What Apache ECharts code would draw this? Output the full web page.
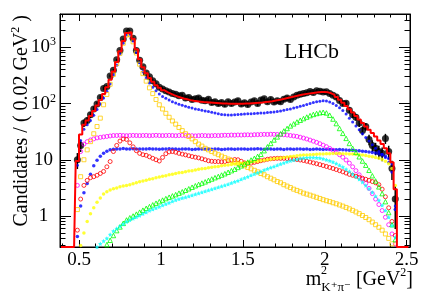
<!DOCTYPE html>
<html><head><meta charset="utf-8">
<script src="https://cdn.jsdelivr.net/npm/echarts@6/dist/echarts.min.js"></script>
<style>html,body{margin:0;padding:0;background:#fff}#c{width:432px;height:293px}</style>
</head><body><div id="c"></div>
<script>
// bin centres (0.02 GeV^2 bins)
const binCenters = Array.from({length: 98}, (_, i) => +(0.49 + 0.02 * i).toFixed(2));
const emptyBinsLeft = [0.39, 0.41, 0.43, 0.45, 0.47];
const emptyBinsRight = [2.45, 2.47, 2.49, 2.51];

const dataCounts = [
  10, 18, 45, 50, 63, 80, 98, 128, 185, 200,
  310, 390, 600, 880, 1400, 1950, 1950, 1450, 880, 590,
  450, 350, 300, 255, 225, 195, 182, 168, 160, 150,
  146, 138, 140, 125, 128, 118, 122, 126, 114, 112,
  119, 104, 108, 100, 104, 97, 108, 100, 106, 112,
  98, 103, 96, 106, 112, 100, 116, 121, 108, 118,
  106, 112, 108, 119, 126, 118, 131, 141, 146, 150,
  155, 163, 157, 168, 165, 160, 162, 150, 141, 130,
  113, 100, 101, 76, 63, 57, 45, 33, 39, 23,
  18, 16, 14, 13, 24, 14, 7, 2
];
const totalFit = [
  9.5, 28, 42, 50, 60, 74, 92, 115, 148, 195,
  265, 370, 550, 850, 1300, 1800, 1850, 1420, 920, 610,
  440, 345, 285, 243, 212, 190, 173, 160, 150, 141,
  134, 128, 123, 119, 115, 112, 110, 108, 106, 105,
  104, 103, 102, 101, 100, 100, 99, 99, 99, 99,
  99, 100, 100, 101, 102, 103, 104, 106, 108, 110,
  113, 116, 119, 123, 127, 131, 135, 139, 143, 147,
  150, 153, 156, 158, 160, 160, 158, 152, 143, 131,
  117, 103, 90, 79, 69, 60, 52, 45, 39, 34,
  30, 26, 22, 19, 16, 13, 9, 3
];
const blueMain = [
  8, 22, 35, 42, 50, 62, 78, 98, 125, 165,
  225, 320, 480, 760, 1180, 1650, 1700, 1300, 820, 530,
  370, 285, 232, 195, 168, 148, 134, 124, 115, 108,
  102, 97, 93, 89, 86, 83, 80, 78, 76, 74,
  72, 70, 68, 66, 64, 63, 62.5, 62.5, 63, 64,
  64.5, 65, 65.5, 66, 66.5, 67, 67.5, 68, 69, 70,
  71, 72, 74, 76, 78, 80, 83, 86, 89, 92,
  96, 100, 104, 107, 110, 112, 111, 106, 100, 92,
  84, 75, 65, 55, 47, 40, 34, 29, 25, 21.5,
  18.5, 16, 14, 12.5, 11, 9, 6, 1.5
];
const blueFlat = [
  0.43, 1.5, 2.6, 3.8, 5.5, 7.8, 9.8, 11.5, 13, 14.2,
  15, 15.4, 15.6, 15.5, 15.8, 15.6, 15.5, 15.7, 15.6, 15.5,
  15.6, 15.5, 15.7, 15.6, 15.5, 15.4, 15.6, 15.5, 15.7, 15.6,
  15.5, 15.4, 15.5, 15.6, 15.5, 15.3, 15.4, 15.5, 15.6, 15.4,
  15.5, 15.4, 15.6, 15.5, 15.3, 15.4, 15.5, 15.6, 15.4, 15.5,
  15.6, 15.5, 15.4, 15.6, 15.5, 15.7, 15.5, 15.4, 15.6, 15.5,
  15.4, 15.6, 15.5, 15.3, 15.5, 15.6, 15.4, 15.5, 15.6, 15.4,
  15.5, 15.3, 15.4, 15.5, 15.4, 15.3, 15.4, 15.2, 15.3, 15.1,
  15.2, 15.0, 14.9, 14.8, 14.7, 14.5, 14.4, 14.2, 14.0, 13.8,
  13.5, 13.2, 12.8, 12.3, 11.6, 10.5, 8.5, 1.3
];
const magentaComp = [
  3.5, 14, 19, 21, 22.5, 23.5, 24.5, 25, 25.5, 26,
  26.5, 27, 27, 27.2, 27, 26.8, 27, 27.1, 27, 26.9,
  27, 27.1, 26.8, 27, 27.2, 27, 26.9, 27, 27.1, 27,
  26.8, 27, 27.1, 26.9, 27, 26.8, 26.6, 26.8, 27, 26.9,
  26.7, 26.8, 27, 26.9, 27.1, 27.3, 27.2, 27.5, 27.4, 27.6,
  27.5, 27.7, 27.8, 27.6, 27.9, 28, 28.1, 28.3, 28.2, 28.4,
  28.3, 28.2, 28, 27.8, 27.5, 27, 26.5, 26, 25.2, 24.3,
  23.4, 22.4, 21.4, 20.4, 19.3, 18.2, 17.1, 15.9, 14.7, 13.5,
  12.3, 11.1, 9.9, 8.7, 7.5, 6.4, 5.4, 4.5, 3.8, 3.1,
  2.5, 2.0, 1.6, 1.25, 0.95, 0.7, 0.48, 0.32
];
const redComp = [
  0.56, 2.0, 3.5, 4.3, 4.8, 5.0, 5.3, 5.7, 6.2, 7.5,
  9.3, 14, 18, 21.5, 23.5, 23, 20, 17, 14.5, 13,
  12.3, 12, 11.3, 10.6, 10, 9.5, 11, 12.8, 13.8, 14,
  13.6, 13, 12.6, 12.2, 11.8, 11.4, 11.1, 10.8, 10.4, 10,
  9.6, 9.4, 9.3, 9.3, 9.2, 9.3, 9.6, 9.9, 10.1, 10,
  9.4, 8.8, 8.6, 8.7, 9.0, 9.3, 9.6, 9.9, 10.2, 10.4,
  10.5, 10.6, 10.6, 10.6, 10.5, 10.4, 10.3, 10.1, 9.9, 9.7,
  9.4, 9.1, 8.8, 8.5, 8.2, 7.9, 7.6, 7.3, 7.0, 6.7,
  6.4, 6.1, 5.8, 5.5, 5.3, 5.1, 4.9, 4.7, 4.5, 4.3,
  4.1, 3.9, 3.6, 3.0, 2.2, 1.4, 0.8, 0.45
];
const orangeComp = [
  1.3, 5, 10, 15, 21, 29, 39, 55, 95, 145,
  220, 330, 510, 780, 1180, 1650, 1700, 1250, 790, 500,
  340, 250, 190, 150, 118, 95, 80, 67, 57, 49,
  43, 37.5, 33, 29, 26, 23.5, 21, 19, 17.5, 16,
  15, 14, 13.1, 12.3, 11.6, 10.9, 10.3, 9.7, 9.2, 8.7,
  8.2, 7.8, 7.3, 6.9, 6.5, 6.1, 5.7, 5.4, 5.0, 4.7,
  4.4, 4.1, 3.9, 3.6, 3.4, 3.2, 3.0, 2.85, 2.7, 2.55,
  2.45, 2.35, 2.25, 2.15, 2.05, 1.95, 1.87, 1.8, 1.72, 1.65,
  1.57, 1.5, 1.42, 1.34, 1.26, 1.18, 1.1, 1.02, 0.94, 0.86,
  0.78, 0.7, 0.63, 0.56, 0.48, 0.4, 0.32, 0.25
];
const yellowComp = [
  null, 0.3, 0.5, 0.8, 1.1, 1.4, 1.75, 2.1, 2.45, 2.7,
  2.9, 3.05, 3.15, 3.3, 3.4, 3.5, 3.6, 3.75, 3.9, 4.05,
  4.2, 4.3, 4.5, 4.6, 4.8, 4.95, 5.1, 5.2, 5.4, 5.55,
  5.7, 5.85, 5.95, 6.15, 6.3, 6.4, 6.6, 6.75, 6.9, 7.0,
  7.2, 7.35, 7.5, 7.6, 7.8, 7.95, 8.1, 8.2, 8.4, 8.55,
  8.7, 8.8, 9.0, 9.15, 9.3, 9.4, 9.6, 9.8, 10.0, 10.2,
  10.4, 10.6, 10.8, 10.95, 11.2, 11.4, 11.55, 11.8, 12.0, 12.1,
  12.2, 12.3, 12.4, 12.5, 12.6, 12.7, 12.8, 12.85, 12.9, 12.9,
  12.9, 12.85, 12.8, 12.7, 12.6, 12.5, 12.3, 12.1, 11.9, 11.6,
  11.3, 11.0, 10.6, 10.1, 9.4, 8.5, 7.0, 3.5
];
const greenComp = [
  null, null, null, null, null, null, null, null, 0.26, 0.31,
  0.37, 0.45, 0.55, 0.64, 0.74, 0.85, 0.93, 1.0, 1.08, 1.17,
  1.27, 1.37, 1.47, 1.58, 1.69, 1.8, 1.92, 2.04, 2.16, 2.28,
  2.4, 2.55, 2.7, 2.87, 3.05, 3.25, 3.45, 3.65, 3.85, 4.05,
  4.3, 4.55, 4.8, 5.05, 5.35, 5.65, 6.0, 6.4, 6.8, 7.3,
  7.8, 8.4, 9.1, 9.9, 10.6, 11.5, 12.5, 14.5, 17, 19.5,
  22.5, 25.5, 29, 32.5, 36, 40, 43.5, 47, 50.5, 54,
  57.5, 61, 64, 66.5, 68.5, 70, 68, 62, 53, 44,
  36, 29.5, 24, 19.5, 16, 13.5, 11.3, 9.5, 8, 6.5,
  5.2, 4.2, 3.3, 2.5, 1.8, 1.15, 0.7, 0.38
];
const cyanComp = [
  null, null, null, null, null, null, 0.28, 0.32, 0.36, 0.4,
  0.47, 0.54, 0.6, 0.66, 0.72, 0.79, 0.85, 0.9, 0.96, 1.02,
  1.1, 1.17, 1.25, 1.32, 1.39, 1.46, 1.55, 1.63, 1.72, 1.82,
  1.93, 2.0, 2.08, 2.16, 2.25, 2.34, 2.44, 2.54, 2.65, 2.76,
  2.88, 3.0, 3.12, 3.25, 3.38, 3.52, 3.68, 3.85, 4.05, 4.25,
  4.5, 4.75, 5.0, 5.3, 5.6, 5.9, 6.2, 6.55, 6.9, 7.25,
  7.6, 8.0, 8.4, 8.8, 9.2, 9.6, 9.9, 10.2, 10.5, 10.7,
  10.9, 11.0, 11.0, 10.9, 10.7, 10.4, 10.0, 9.6, 9.1, 8.6,
  8.0, 7.4, 6.8, 6.2, 5.6, 5.0, 4.5, 4.0, 3.5, 3.05,
  2.65, 2.25, 1.9, 1.55, 1.25, 0.95, 0.68, 0.42
];

const xTickLabels = [0.5, 1, 1.5, 2, 2.5];
const xMinorTicks = [0.4, 0.6, 0.7, 0.8, 0.9, 1.1, 1.2, 1.3, 1.4, 1.6, 1.7, 1.8, 1.9, 2.1, 2.2, 2.3, 2.4];
const yTickLabels = [1, 10, 100, 1000];
const yMinorTicks = [0.3, 0.4, 0.5, 0.6, 0.7, 0.8, 0.9, 2, 3, 4, 5, 6, 7, 8, 9,
  20, 30, 40, 50, 60, 70, 80, 90, 200, 300, 400, 500, 600, 700, 800, 900, 2000, 3000];

const xTitle = 'm{sub|K⁺π⁻} [GeV{sup|2}]';
const xTitleSup = '2';
const yTitle = 'Candidates / ( 0.02 GeV{sup|2} )';

const X_MIN = 0.384, X_MAX = 2.52;
const Y_MIN = 0.281, Y_MAX = 3908;

const L = v => Math.log10(v);
const FONT = "'Liberation Serif', 'Times New Roman', 'DejaVu Serif', serif";

function xAxisDef(pos, ticks, len, major) {
  return {
    type: 'value', min: X_MIN, max: X_MAX, position: pos,
    axisLine: {show: major, onZero: false, lineStyle: {color: '#000', width: 1}},
    axisTick: {show: true, inside: true, length: len, customValues: ticks, lineStyle: {color: '#000', width: 1}},
    axisLabel: (major && pos === 'bottom') ? {
      show: true, customValues: xTickLabels, color: '#000', fontFamily: FONT, fontSize: 19, margin: 4,
      formatter: v => String(v)
    } : {show: false},
    splitLine: {show: false}
  };
}
function yAxisDef(pos, ticks, len, major) {
  return {
    type: 'value', min: L(Y_MIN), max: L(Y_MAX), position: pos,
    axisLine: {show: major, onZero: false, lineStyle: {color: '#000', width: 1}},
    axisTick: {show: true, inside: true, length: len, customValues: ticks.map(L), lineStyle: {color: '#000', width: 1}},
    axisLabel: (major && pos === 'left') ? {
      show: true, customValues: yTickLabels.map(L), color: '#000', fontFamily: FONT, fontSize: 19,
      lineHeight: 22, margin: 16.5, align: 'center',
      formatter: v => {
        const e = Math.round(v);
        return e <= 1 ? String(Math.pow(10, e)) : '10{s|' + e + '}';
      },
      rich: {s: {fontSize: 12, fontFamily: FONT, color: '#000', verticalAlign: 'top'}}
    } : {show: false},
    splitLine: {show: false}
  };
}

const pts = vals => binCenters.map((x, i) => vals[i] == null ? null : [x, L(vals[i])]).filter(p => p);

function comp(name, vals, symbol, size, color, hollow) {
  return {
    type: 'scatter', name, symbol, symbolSize: size, z: 3, silent: true,
    itemStyle: hollow ? {color: 'rgba(0,0,0,0)', borderColor: color, borderWidth: 1} : {color: color},
    data: pts(vals)
  };
}

const starPath = 'path://M0,-1L0.29,-0.4L0.95,-0.31L0.47,0.15L0.59,0.81L0,0.5L-0.59,0.81L-0.47,0.15L-0.95,-0.31L-0.29,-0.4Z';

const fitLine = []
  .concat(emptyBinsLeft.map(x => [x, L(Y_MIN)]))
  .concat(binCenters.map((x, i) => [x, L(totalFit[i])]))
  .concat(emptyBinsRight.map(x => [x, L(Y_MIN)]));

const errBars = binCenters.map((x, i) => {
  const v = dataCounts[i], s = Math.sqrt(v);
  return [x, L(Math.max(v - s, Y_MIN)), L(v + s)];
});

const option = {
  animation: false,
  backgroundColor: '#fff',
  grid: {left: 60, right: 22, top: 14, bottom: 46, show: true, borderColor: '#000', borderWidth: 1,
    backgroundColor: 'rgba(0,0,0,0)', containLabel: false, outerBoundsMode: 'none'},
  title: {
    text: 'LHCb', left: 284, top: 41, padding: 0,
    textStyle: {fontFamily: FONT, fontSize: 22, fontWeight: 'normal', color: '#000', lineHeight: 22}
  },
  graphic: [
    {
      type: 'text', x: 413, y: 280, silent: true,
      style: {
        text: xTitle, fontFamily: FONT, fontSize: 20, fill: '#000', align: 'right', verticalAlign: 'middle',
        lineHeight: 29,
        rich: {
          sup: {fontSize: 12, fontFamily: FONT, fill: '#000', verticalAlign: 'top', height: 15, lineHeight: 15},
          sub: {fontSize: 13, fontFamily: FONT, fill: '#000', verticalAlign: 'bottom', height: 13, lineHeight: 13}
        }
      }
    },
    {
      type: 'text', x: 321, y: 271, silent: true,
      style: {text: xTitleSup, fontFamily: FONT, fontSize: 12, fill: '#000', align: 'left', verticalAlign: 'middle'}
    },
    {
      type: 'text', x: 22, y: 15, rotation: Math.PI / 2, silent: true,
      style: {
        text: yTitle, fontFamily: FONT, fontSize: 20, fill: '#000', align: 'right', verticalAlign: 'middle',
        lineHeight: 24,
        rich: {sup: {fontSize: 12, fontFamily: FONT, fill: '#000', verticalAlign: 'top', height: 12, lineHeight: 12}}
      }
    }
  ],
  xAxis: [
    xAxisDef('bottom', xTickLabels, 7, true),
    xAxisDef('bottom', xMinorTicks, 3.5, false),
    xAxisDef('top', xTickLabels, 7, true),
    xAxisDef('top', xMinorTicks, 3.5, false)
  ],
  yAxis: [
    yAxisDef('left', yTickLabels, 11, true),
    yAxisDef('left', yMinorTicks, 5.5, false),
    yAxisDef('right', yTickLabels, 11, true),
    yAxisDef('right', yMinorTicks, 5.5, false)
  ],
  series: [
    {
      type: 'custom', name: 'errors', z: 2, silent: true, clip: true,
      renderItem: (params, api) => {
        const p1 = api.coord([api.value(0), api.value(1)]);
        const p2 = api.coord([api.value(0), api.value(2)]);
        return {type: 'line', shape: {x1: p1[0], y1: p1[1], x2: p2[0], y2: p2[1]},
          style: {stroke: '#000', lineWidth: 1.5}};
      },
      encode: {x: 0, y: [1, 2]},
      data: errBars
    },
    {type: 'scatter', name: 'data', symbol: 'circle', symbolSize: 7, z: 2, silent: true,
      itemStyle: {color: '#000'}, data: pts(dataCounts)},
    comp('blue main', blueMain, 'circle', 3, '#0000ff', false),
    comp('blue flat', blueFlat, 'circle', 3.5, '#0000ff', false),
    comp('magenta', magentaComp, 'circle', 4, '#ff00ff', true),
    comp('red', redComp, 'circle', 4, '#ff0000', true),
    comp('orange', orangeComp, 'rect', 4, '#ffcc00', true),
    comp('yellow', yellowComp, 'circle', 3.5, '#ffff00', false),
    comp('green', greenComp, 'triangle', 4.5, '#00ff00', true),
    comp('cyan', cyanComp, starPath, 4.5, '#00ffff', false),
    {type: 'line', name: 'fit', step: 'middle', showSymbol: false, z: 5, silent: true,
      lineStyle: {color: '#ff0000', width: 2}, data: fitLine}
  ]
};

const chart = echarts.init(document.getElementById('c'), null, {renderer: 'canvas'});
chart.setOption(option);
</script>
</body></html>
